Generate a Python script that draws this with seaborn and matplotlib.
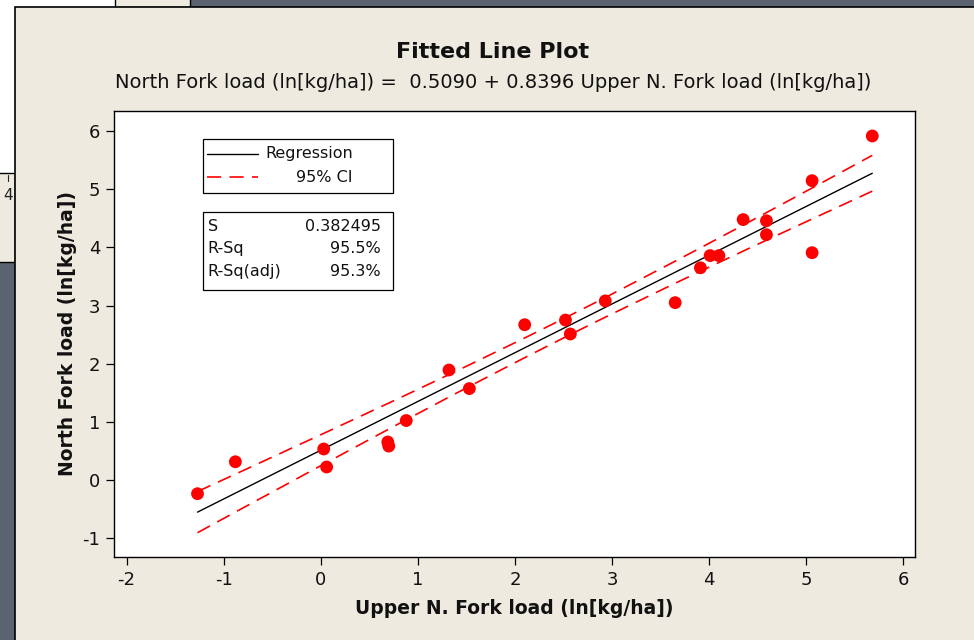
import numpy as np
import pandas as pd
import matplotlib
matplotlib.use("Agg")
import matplotlib.pyplot as plt
from matplotlib.patches import Rectangle
import seaborn as sns

# datos (ln[kg/ha])
upper_load = [-1.27, -0.88, 0.03, 0.06, 0.69, 0.70, 0.88, 1.32, 1.53, 2.10, 2.52, 2.57,
              2.93, 3.65, 3.91, 4.01, 4.10, 4.35, 4.59, 4.59, 5.06, 5.06, 5.68]
north_load = [-0.24, 0.31, 0.53, 0.22, 0.65, 0.58, 1.02, 1.89, 1.57, 2.67, 2.75, 2.51,
              3.08, 3.05, 3.65, 3.86, 3.86, 4.48, 4.46, 4.22, 5.15, 3.91, 5.92]

intercept = 0.5090
slope = 0.8396
s_value = 0.382495
r_sq = "95.5%"
r_sq_adj = "95.3%"
t_crit = 2.080  # t(0.975, 21)

x_ticks = [-2, -1, 0, 1, 2, 3, 4, 5, 6]
y_ticks = [-1, 0, 1, 2, 3, 4, 5, 6]

BEIGE = "#eeeae0"
GRAY = "#5b6371"

df = pd.DataFrame({"upper": upper_load, "north": north_load})

# recta ajustada e intervalo de confianza del 95%
xs = np.sort(df["upper"].to_numpy())
n = len(xs)
xbar = xs.mean()
sxx = ((xs - xbar) ** 2).sum()
fit = intercept + slope * xs
half = t_crit * s_value * np.sqrt(1.0 / n + (xs - xbar) ** 2 / sxx)
fit_df = pd.DataFrame({"x": xs, "fit": fit, "lo": fit - half, "hi": fit + half})

sns.set_theme(style="white")
plt.rcParams["font.family"] = ["DejaVu Sans"]
plt.rcParams["axes.unicode_minus"] = False

fig = plt.figure(figsize=(9.74, 6.4), dpi=100)
fig.patch.set_facecolor(GRAY)

W, H = 974.0, 640.0


def fig_rect(x0, y0, x1, y1, color, edge=None, lw=0):
    # rectangulo en pixeles de la captura (origen arriba a la izquierda)
    fig.patches.append(Rectangle((x0 / W, 1 - y1 / H), (x1 - x0) / W, (y1 - y0) / H,
                                 transform=fig.transFigure, facecolor=color,
                                 edgecolor=edge if edge else color, linewidth=lw,
                                 zorder=-5))


# fondo de la captura de pantalla
fig_rect(0, 0, 115, 7, "white")
fig_rect(0, 0, 15, 173, "white")
fig_rect(115, -2, 190, 7, BEIGE, edge="black", lw=1)
fig_rect(-2, 173, 15, 262, BEIGE, edge="black", lw=1)
fig.text(8 / W, 1 - 196 / H, "4", ha="center", va="center", fontsize=11, color="#222222")
fig.lines.append(plt.Line2D([8 / W, 8 / W], [1 - 175 / H, 1 - 181 / H],
                            transform=fig.transFigure, color="#222222", lw=0.8))
fig_rect(15, 7, 975, 642, BEIGE, edge="black", lw=1.2)

ax = fig.add_axes([114 / W, 1 - 557 / H, 801 / W, 446 / H])
ax.set_zorder(3)
ax.set_facecolor("white")

sns.lineplot(data=fit_df, x="x", y="fit", ax=ax, color="black", linewidth=1.0,
             estimator=None, sort=False)
sns.lineplot(data=fit_df, x="x", y="lo", ax=ax, color="red", linewidth=1.2,
             estimator=None, sort=False)
sns.lineplot(data=fit_df, x="x", y="hi", ax=ax, color="red", linewidth=1.2,
             estimator=None, sort=False)
for ln in ax.lines[1:]:
    ln.set_dashes((8.5, 5))
sns.scatterplot(data=df, x="upper", y="north", ax=ax, color="red", s=85,
                edgecolor="none", zorder=5)

ax.set_xlim(-2.13, 6.12)
ax.set_ylim(-1.33, 6.35)
ax.set_xticks(x_ticks)
ax.set_yticks(y_ticks)
ax.tick_params(axis="both", direction="out", length=6, width=0.9, color="black",
               labelsize=13, labelcolor="#111111", pad=4, bottom=True, left=True)
for sp in ax.spines.values():
    sp.set_color("black")
    sp.set_linewidth(1.0)

ax.set_xlabel("Upper N. Fork load (ln[kg/ha])", fontsize=13.5, fontweight="bold",
              color="#111111", labelpad=7)
ax.set_ylabel("North Fork load (ln[kg/ha])", fontsize=13.5, fontweight="bold",
              color="#111111", labelpad=4)

fig.text(493 / W, 1 - 52 / H, "Fitted Line Plot", ha="center", va="center",
         fontsize=16, fontweight="bold", color="#111111")
fig.text(493 / W, 1 - 83 / H,
         "North Fork load (ln[kg/ha]) =  0.5090 + 0.8396 Upper N. Fork load (ln[kg/ha])",
         ha="center", va="center", fontsize=14, color="#111111")

# leyenda
tr = ax.transAxes
ax.add_patch(Rectangle((0.111, 0.816), 0.237, 0.121, transform=tr, facecolor="white",
                       edgecolor="black", linewidth=0.9, zorder=6))
ax.plot([0.116, 0.180], [0.9036, 0.9036], transform=tr, color="black", lw=1.0, zorder=7)
ax.plot([0.116, 0.180], [0.852, 0.852], transform=tr, color="red", lw=1.2,
        dashes=(8.5, 5), zorder=7)
ax.text(0.298, 0.9036, "Regression", transform=tr, ha="right", va="center",
        fontsize=11.5, color="#111111", zorder=7)
ax.text(0.298, 0.852, "95% CI", transform=tr, ha="right", va="center",
        fontsize=11.5, color="#111111", zorder=7)

# cuadro de estadisticos
ax.add_patch(Rectangle((0.111, 0.5987), 0.237, 0.1748, transform=tr, facecolor="white",
                       edgecolor="black", linewidth=0.9, zorder=6))
stats = [("S", f"{s_value:.6f}"), ("R-Sq", r_sq), ("R-Sq(adj)", r_sq_adj)]
for (lab, val), yy in zip(stats, [0.740, 0.6906, 0.641]):
    ax.text(0.117, yy, lab, transform=tr, ha="left", va="center", fontsize=11.5,
            color="#111111", zorder=7)
    ax.text(0.333, yy, val, transform=tr, ha="right", va="center", fontsize=11.5,
            color="#111111", zorder=7)

fig.savefig("out.png", dpi=100, facecolor=fig.get_facecolor())
